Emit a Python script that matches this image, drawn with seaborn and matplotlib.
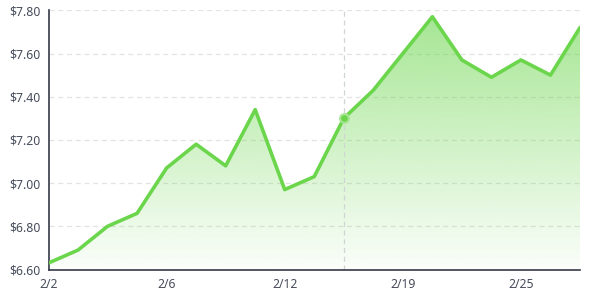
import numpy as np
import pandas as pd
import matplotlib
matplotlib.use("Agg")
import matplotlib.pyplot as plt
import seaborn as sns
from matplotlib.colors import to_rgb

dates = ["2/2", "2/3", "2/4", "2/5", "2/6", "2/9", "2/10", "2/11", "2/12", "2/13",
         "2/17", "2/18", "2/19", "2/20", "2/23", "2/24", "2/25", "2/26", "2/27"]
prices = [6.63, 6.69, 6.80, 6.86, 7.07, 7.18, 7.08, 7.34, 6.97, 7.03,
          7.30, 7.43, 7.60, 7.77, 7.57, 7.49, 7.57, 7.50, 7.72]
tick_labels = ["2/2", "2/6", "2/12", "2/19", "2/25"]
y_ticks = [6.60, 6.80, 7.00, 7.20, 7.40, 7.60, 7.80]
hover_date = "2/17"

LINE = "#6bd64c"
TEXT = "#464c5b"

sns.set_theme(style="white")
plt.rcParams["font.family"] = ["Noto Sans", "DejaVu Sans"]

df = pd.DataFrame({"idx": np.arange(len(dates)), "date": dates, "price": prices})

fig = plt.figure(figsize=(6.1, 3.0), dpi=100)
ax = fig.add_axes([48.5 / 610, 30.5 / 300, (580 - 48.5) / 610, (269.5 - 10.3) / 300])

ymin, ymax = 6.6, 7.8
ax.set_xlim(0, len(dates) - 1)
ax.set_ylim(ymin, ymax)

# gradient fill
poly = ax.fill_between(df["idx"], df["price"], ymin, color="none", lw=0)
rgb = np.array(to_rgb(LINE))
n = 256
alphas = np.linspace(0.03, 0.6, n)
img = np.zeros((n, 1, 4))
img[:, 0, :3] = rgb
img[:, 0, 3] = alphas
top = max(prices)
im = ax.imshow(img, extent=[0, len(dates) - 1, ymin, top], origin="lower",
               aspect="auto", zorder=1, interpolation="bilinear")
path = poly.get_paths()[0]
im.set_clip_path(path, transform=ax.transData)

# gridlines
for yt in y_ticks[1:]:
    ax.axhline(yt, color="#e3e3e3", lw=0.9, ls=(0, (4, 3)), zorder=0)

# hover line
hi = dates.index(hover_date)
ax.axvline(hi, color="#cfd4d4", lw=0.9, ls=(0, (4, 3)), zorder=2)

sns.lineplot(data=df, x="idx", y="price", ax=ax, color=LINE, lw=2.6, zorder=3)
ax.scatter([hi], [prices[hi]], s=40, color=LINE, edgecolor="#a9e596", lw=1.5, zorder=4)

ax.set_ylim(ymin, ymax)
ax.set_xlim(0, len(dates) - 1)
ax.set_yticks(y_ticks)
ax.set_yticklabels(["\\$%.2f" % v for v in y_ticks])
ax.set_xticks([dates.index(t) for t in tick_labels])
ax.set_xticklabels(tick_labels)
ax.set_xlabel("")
ax.set_ylabel("")
ax.tick_params(axis="both", length=0, labelsize=8.8, colors=TEXT)
ax.tick_params(axis="y", pad=6)
ax.tick_params(axis="x", pad=6)

for s in ["top", "right"]:
    ax.spines[s].set_visible(False)
for s in ["left", "bottom"]:
    ax.spines[s].set_color("#333a48")
    ax.spines[s].set_linewidth(1.2)

fig.savefig("out.png", dpi=100, facecolor="white")
